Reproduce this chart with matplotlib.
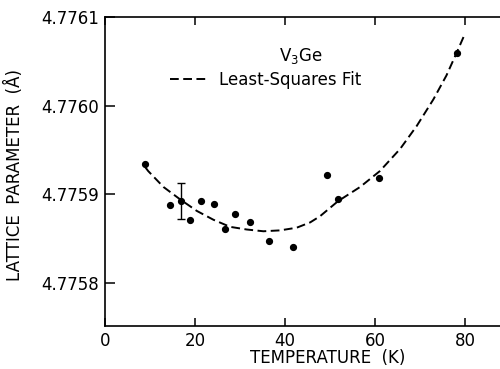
import matplotlib
matplotlib.use("Agg")
from matplotlib import pyplot as plt

# measured points (temperature K, lattice parameter A)
temps = [8.9, 14.4, 16.9, 18.9, 21.3, 24.3, 26.6, 28.8, 32.2, 36.4, 41.7, 49.3, 51.8, 61.0, 78.2]
params = [4.775934, 4.775888, 4.775892, 4.775871, 4.775892, 4.775889, 4.775860, 4.775878,
          4.775868, 4.775847, 4.775840, 4.775921, 4.775895, 4.775918, 4.776059]

# single point carrying an error bar
err_temp = [16.9]
err_param = [4.775892]
err_size = [0.000020]

# least-squares fit curve
fit_temps = [9.0, 9.6, 13.0, 16.7, 20.4, 24.1, 27.8, 31.5, 35.2, 38.9, 42.6, 45.6, 47.8,
             51.8, 56.7, 61.1, 65.6, 69.3, 73.0, 75.9, 78.2, 80.0]
fit_params = [4.775930, 4.775926, 4.775908, 4.775894, 4.775881, 4.775871, 4.775863, 4.775860,
              4.775858, 4.775859, 4.775862, 4.775868, 4.775875, 4.775892, 4.775908, 4.775926,
              4.775951, 4.775977, 4.776007, 4.776034, 4.776060, 4.776081]

xticks = [0, 20, 40, 60, 80]
yticks = [4.7758, 4.7759, 4.7760, 4.7761]
ylabels = ["4.7758", "4.7759", "4.7760", "4.7761"]

fig = plt.figure(figsize=(5, 3.69), dpi=100)
ax = fig.add_axes([0.21, 0.1165, 0.79, 0.8375])

ax.plot(fit_temps, fit_params, color="black", lw=1.4, dashes=(4.5, 2.3), label="Least-Squares Fit")
ax.plot(temps, params, "o", color="black", ms=4.2)
ax.errorbar(err_temp, err_param, yerr=err_size, fmt="none", ecolor="black", elinewidth=1.0,
            capsize=3, capthick=1.0)

ax.set_xlim(0, 87.8)
ax.set_ylim(4.775751, 4.7761)
ax.set_xticks(xticks)
ax.set_yticks(yticks)
ax.set_yticklabels(ylabels)

ax.spines["right"].set_visible(False)
for s in ["left", "bottom", "top"]:
    ax.spines[s].set_linewidth(1.2)
ax.tick_params(direction="in", length=6, width=1.1, labelsize=12, top=True, right=False, pad=4)
ax.tick_params(axis="y", length=7)

ax.set_xlabel("TEMPERATURE  (K)", fontsize=12, labelpad=2)
ax.xaxis.set_label_coords((328 - 105) / 395, -0.075)
ax.set_ylabel("LATTICE  PARAMETER  (Å)", fontsize=12)
ax.yaxis.set_label_coords(-0.205, 0.49)

ax.text(0.495, 0.875, r"V$_3$Ge", transform=ax.transAxes, fontsize=12, ha="center", va="center")
ax.legend(loc="center left", bbox_to_anchor=(0.165, 0.796), frameon=False, fontsize=12,
          handlelength=2.3, handletextpad=0.6, borderpad=0, borderaxespad=0)

fig.savefig("out.png", dpi=100)
